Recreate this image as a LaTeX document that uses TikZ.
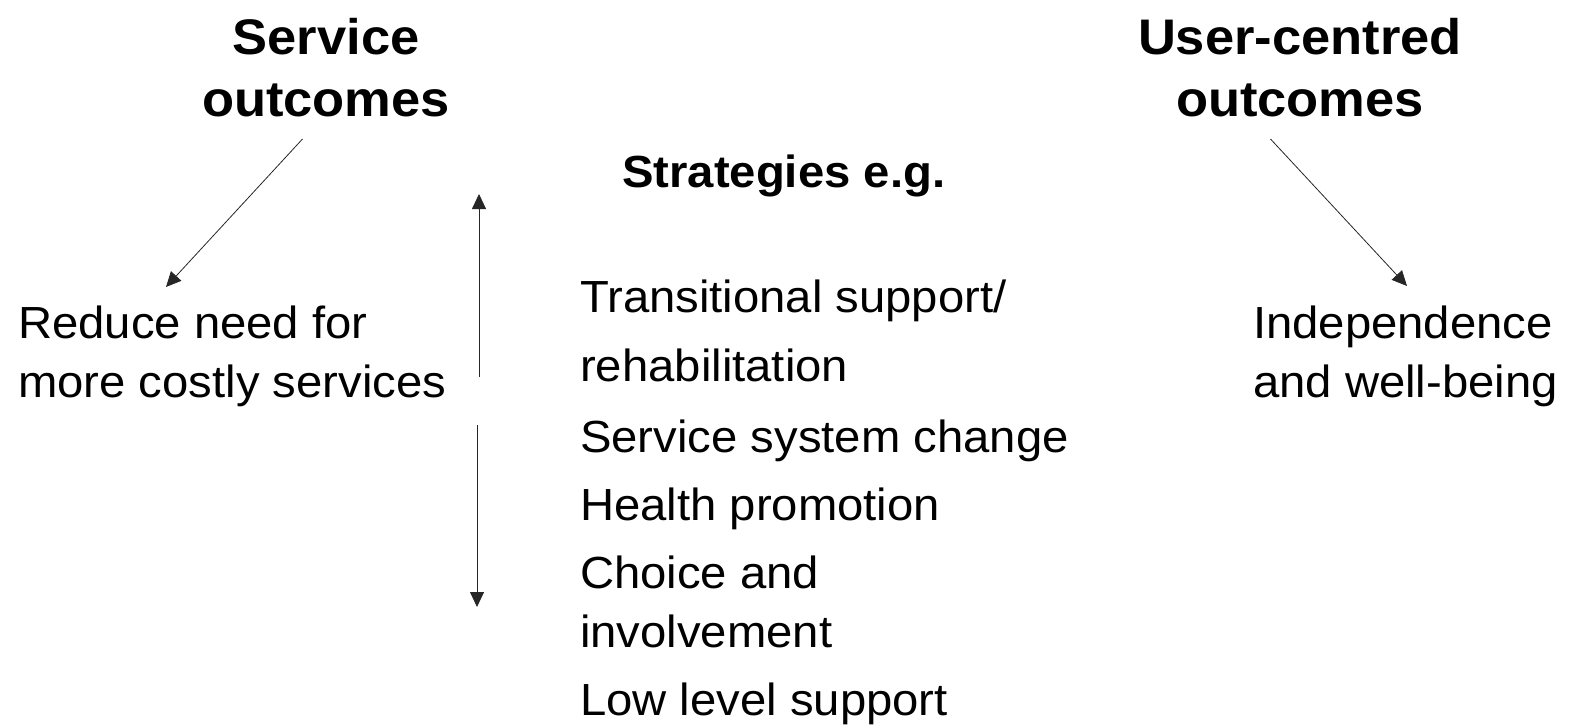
\documentclass[tikz,border=0pt]{standalone}
\usepackage{fontspec}
\setmainfont{Liberation Sans}[FakeStretch=1.05]
\usetikzlibrary{arrows.meta}
\begin{document}
\begin{tikzpicture}[x=1pt,y=-1pt,
  heading/.style={font=\fontsize{50}{62}\selectfont\bfseries, align=center, inner sep=0pt, anchor=base},
  subhead/.style={font=\fontsize{45}{59}\selectfont\bfseries, inner sep=0pt, anchor=base west},
  body/.style={font=\fontsize{45}{59}\selectfont, align=left, inner sep=0pt, anchor=base west},
  link/.style={draw=black!85, line width=0.8pt, -{Triangle[length=15pt,width=14pt]}}]
\path[use as bounding box] (0,0) rectangle (1571,725);

% column headings (a multi-line node sits on the baseline of its last line)
\node[heading] (svc) at (326,116) {Service\\outcomes};
\node[heading] (usr) at (1300,116) {User-centred\\outcomes};
\node[subhead] (strat) at (622,187) {Strategies e.g.};

% outcome texts
\node[body] (reduce) at (18,397) {Reduce need for\\more costly services};
\node[body] (indep) at (1253,397) {Independence\\and well-being};

% list of strategies
\node[body] (s1) at (580,381) {Transitional support/\\[10pt]rehabilitation};
\node[body] (s2) at (580,452) {Service system change};
\node[body] (s3) at (580,520) {Health promotion};
\node[body] (s4) at (580,647) {Choice and\\involvement};
\node[body] (s5) at (580,715) {Low level support};

% arrow end points
\coordinate (svcfoot) at (302.5,139);
\coordinate (reducetop) at (166,287);
\coordinate (usrfoot) at (1270.5,139);
\coordinate (indeptop) at (1407,286);
\coordinate (upfrom) at (479,377);
\coordinate (upto) at (479,194);
\coordinate (downfrom) at (477,425);
\coordinate (downto) at (477,607);

\draw[link] (svcfoot) -- (reducetop);
\draw[link] (usrfoot) -- (indeptop);
\draw[link] (upfrom) -- (upto);
\draw[link] (downfrom) -- (downto);
\end{tikzpicture}
\end{document}
